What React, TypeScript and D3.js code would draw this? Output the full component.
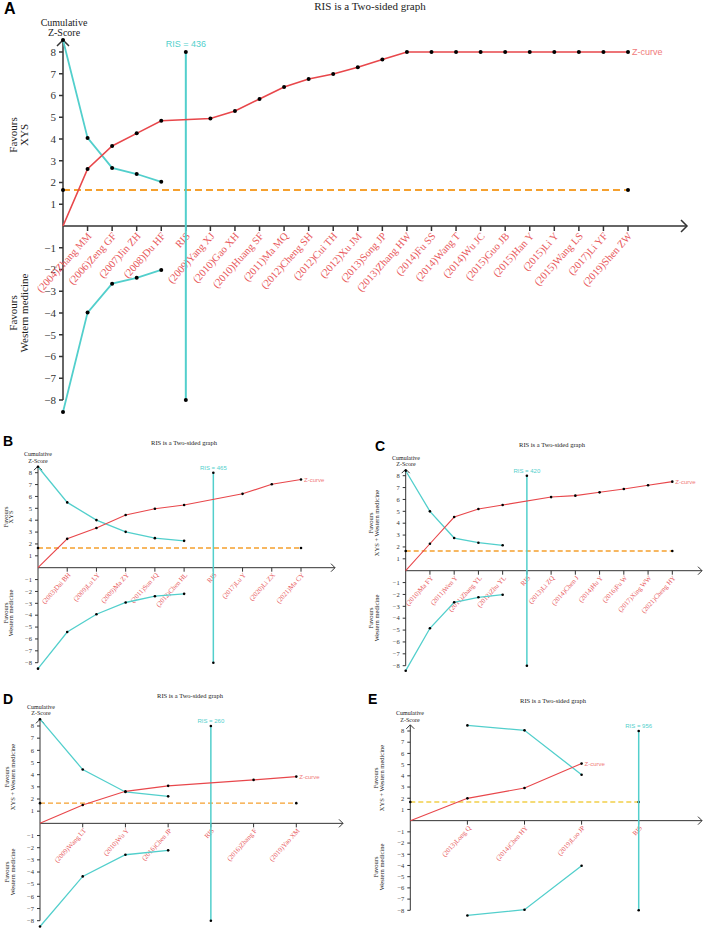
import React from "react";
import * as d3 from "d3";

// ---------- DATA ----------
const thresholdZ = 1.66;
const yTickValues = [-8, -7, -6, -5, -4, -3, -2, -1, 1, 2, 3, 4, 5, 6, 7, 8];

const studiesA = ["(2004)Zhang MM", "(2006)Zeng GF", "(2007)Jin ZH", "(2008)Du HF", "RIS", "(2009)Yang XJ", "(2010)Gao XH", "(2010)Huang SF", "(2011)Ma MQ", "(2012)Cheng SH", "(2012)Cui TH", "(2012)Xu JM", "(2013)Song JP", "(2013)Zhang HW", "(2014)Fu SS", "(2014)Wang T", "(2014)Wu JC", "(2015)Guo JB", "(2015)Han Y", "(2015)Li Y", "(2015)Wang LS", "(2017)Li YF", "(2019)Shen ZW"];
const zCurveA = [2.62, 3.68, 4.26, 4.84, null, 4.94, 5.29, 5.84, 6.39, 6.76, 6.99, 7.3, 7.66, 8, 8, 8, 8, 8, 8, 8, 8, 8, 8];
const upperA = [8.55, 4.05, 2.67, 2.39, 2.03];
const lowerA = [-8.55, -3.98, -2.65, -2.38, -2.02];
const risA = 436;

const studiesB = ["(2003)Dai BH", "(2009)Lu LY", "(2009)Ma ZY", "(2011)Sun JQ", "(2012)Chen HL", "RIS", "(2017)Lu Y", "(2020)Li ZX", "(2021)Ma CY"];
const zCurveB = [2.43, 3.34, 4.44, 4.97, 5.28, null, 6.22, 7.03, 7.43];
const upperB = [8.5, 5.5, 4.01, 3.02, 2.49, 2.26];
const lowerB = [-8.5, -5.42, -3.92, -2.93, -2.4, -2.2];
const risB = 465;

const studiesC = ["(2010)Ma FY", "(2011)Wen Y", "(2011)Zhang YL", "(2012)Zhu YL", "RIS", "(2013)Li ZQ", "(2014)Chen J", "(2014)Hu Y", "(2016)Fu W", "(2017)Xing WW", "(2021)Cheng HY"];
const zCurveC = [2.27, 4.52, 5.2, 5.53, null, 6.2, 6.32, 6.6, 6.88, 7.19, 7.5];
const upperC = [8.42, 5.0, 2.75, 2.36, 2.14];
const lowerC = [-8.42, -4.85, -2.66, -2.24, -2.02];
const risC = 420;

const studiesD = ["(2009)Wang LT", "(2010)Wu Y", "(2016)Chen JP", "RIS", "(2016)Zhang F", "(2019)Yao XM"];
const zCurveD = [1.51, 2.63, 3.08, null, 3.57, 3.84];
const upperD = [8.56, 4.42, 2.58, 2.22];
const lowerD = [-8.48, -4.36, -2.58, -2.22];
const risD = 260;

const studiesE = ["(2013)Long Q", "(2014)Chen HY", "(2019)Luo JP", "RIS"];
const zCurveE = [1.99, 2.91, 5.09, null];
const upperE = [null, 8.5, 8.06, 4.1];
const lowerE = [null, -8.46, -7.95, -4.02];
const risE = 956;

// ---------- LAYOUT ----------
const RED = "#e8474b";
const LABEL_RED = "#e8585b";
const ZLABEL = "#f07a7a";
const CYAN = "#52cfcc";
const ORANGE = "#f5a02e";
const YELLOW = "#f2cf4a";
const AXIS = "#333";
const SERIF = "'Liberation Serif', 'DejaVu Serif', serif";
const SANS = "'Liberation Sans', Arial, sans-serif";

type Layout = {
  letter: [number, number, string];
  title: [number, number];
  x0: number; xEnd: number; xArrow: number;
  yP8: number; yM8: number;
  cum: [number, number, number];
  favTop: [number, number, number, string];
  favBot: [number, number, number];
  big: boolean;
  dash: string;
};

const layoutA: Layout = { letter: [4, 14, "A"], title: [370, 10], x0: 63, xEnd: 628, xArrow: 687, yP8: 52, yM8: 400, cum: [64, 26, 36], favTop: [13, 24, 135, "XYS"], favBot: [13, 24, 313], big: true, dash: ORANGE };
const layoutB: Layout = { letter: [3, 446, "B"], title: [184, 445], x0: 38, xEnd: 301, xArrow: 335, yP8: 472.7, yM8: 662.7, cum: [38, 456, 463], favTop: [6, 11, 517, "XYS"], favBot: [6, 11, 613], big: false, dash: ORANGE };
const layoutC: Layout = { letter: [375, 451, "C"], title: [552, 447], x0: 405.7, xEnd: 672.3, xArrow: 702, yP8: 475.7, yM8: 665.7, cum: [406, 460, 466], favTop: [371, 377, 523, "XYS  +  Western medicine"], favBot: [371, 377, 618], big: false, dash: ORANGE };
const layoutD: Layout = { letter: [3, 704, "D"], title: [190, 698], x0: 40, xEnd: 296.3, xArrow: 343, yP8: 726, yM8: 920.7, cum: [41, 709, 715], favTop: [7, 13, 777, "XYS  +  Western medicine"], favBot: [7, 13, 872], big: false, dash: ORANGE };
const layoutE: Layout = { letter: [368, 704, "E"], title: [553, 703], x0: 410.3, xEnd: 638.7, xArrow: 702, yP8: 731, yM8: 910.3, cum: [410, 715, 722], favTop: [376, 382, 778, "XYS  +  Western medicine"], favBot: [376, 382, 867], big: false, dash: YELLOW };

type PanelProps = {
  layout: Layout;
  studies: string[];
  zCurve: (number | null)[];
  upper: (number | null)[];
  lower: (number | null)[];
  ris: number;
};

function Panel({ layout, studies, zCurve, upper, lower, ris }: PanelProps) {
  const L = layout;
  const n = studies.length;
  const x = d3.scaleLinear().domain([0, n]).range([L.x0, L.xEnd]);
  const y = d3.scaleLinear().domain([-8, 8]).range([L.yM8, L.yP8]);
  const y0 = y(0);
  const big = L.big;
  const f = big
    ? { tick: 11, xl: 10.5, title: 11, cum: 10, fav: 11, ris: 9, z: 9, r: 2, lw: 1.6, tl: 4, letter: 16 }
    : { tick: 6.5, xl: 6.8, title: 6.5, cum: 6, fav: 6.5, ris: 6, z: 6, r: 1.3, lw: 1.1, tl: 3, letter: 14 };
  const risPos = studies.indexOf("RIS") + 1;

  const line = d3
    .line<[number, number]>()
    .x((d) => x(d[0]))
    .y((d) => y(d[1]));

  const zPts: [number, number][] = [[0, 0]];
  zCurve.forEach((v, i) => {
    if (v !== null) zPts.push([i + 1, v]);
  });
  const upPts: [number, number][] = [];
  upper.forEach((v, i) => {
    if (v !== null) upPts.push([i, v]);
  });
  const loPts: [number, number][] = [];
  lower.forEach((v, i) => {
    if (v !== null) loPts.push([i, v]);
  });
  const lastZ = zPts[zPts.length - 1];
  const yTop = y(8.55);
  const ah = big ? 6 : 4;

  return (
    <g>
      <text x={L.letter[0]} y={L.letter[1]} fontFamily={SANS} fontWeight="bold" fontSize={f.letter} fill="#000">
        {L.letter[2]}
      </text>
      <text x={L.title[0]} y={L.title[1]} textAnchor="middle" fontFamily={SERIF} fontSize={f.title} fill="#222">
        RIS is a Two-sided graph
      </text>
      <text x={L.cum[0]} y={L.cum[1]} textAnchor="middle" fontFamily={SERIF} fontSize={f.cum} fill="#222">
        Cumulative
      </text>
      <text x={L.cum[0]} y={L.cum[2]} textAnchor="middle" fontFamily={SERIF} fontSize={f.cum} fill="#222">
        Z-Score
      </text>
      {/* side labels */}
      <g fontFamily={SERIF} fontSize={f.fav} fill="#222" textAnchor="middle">
        <text transform={`translate(${L.favTop[0]},${L.favTop[2]}) rotate(-90)`} dy="0.35em">Favours</text>
        <text transform={`translate(${L.favTop[1]},${L.favTop[2]}) rotate(-90)`} dy="0.35em">{L.favTop[3]}</text>
        <text transform={`translate(${L.favBot[0]},${L.favBot[2]}) rotate(-90)`} dy="0.35em">Favours</text>
        <text transform={`translate(${L.favBot[1]},${L.favBot[2]}) rotate(-90)`} dy="0.35em">Western medicine</text>
      </g>
      {/* axes */}
      <g stroke={AXIS} strokeWidth={big ? 1.5 : 1} fill="none">
        <line x1={L.x0} x2={L.x0} y1={y(-8)} y2={yTop} />
        <polyline points={`${L.x0 - ah},${yTop + ah} ${L.x0},${yTop} ${L.x0 + ah},${yTop + ah}`} />
        <line x1={L.x0} x2={L.xArrow} y1={y0} y2={y0} />
        <polyline points={`${L.xArrow - ah},${y0 - ah} ${L.xArrow},${y0} ${L.xArrow - ah},${y0 + ah}`} />
        {yTickValues.map((t) => (
          <line key={t} x1={L.x0 - f.tl} x2={L.x0} y1={y(t)} y2={y(t)} />
        ))}
        {studies.map((_, i) => (
          <line key={i} x1={x(i + 1)} x2={x(i + 1)} y1={y0} y2={y0 + f.tl + 1} />
        ))}
      </g>
      <g fontFamily={SERIF} fontSize={f.tick} fill="#333" textAnchor="end">
        {yTickValues.map((t) => (
          <text key={t} x={L.x0 - f.tl - 3} y={y(t)} dy="0.35em">
            {t < 0 ? `\u2212${-t}` : `${t}`}
          </text>
        ))}
      </g>
      {/* study labels */}
      <g fontFamily={SERIF} fontSize={f.xl} fill={LABEL_RED} textAnchor="end">
        {studies.map((s, i) => (
          <text key={i} transform={`translate(${x(i + 1) + 2},${y0 + (big ? 8 : 6)}) rotate(-48)`} dy="0.35em">
            {s}
          </text>
        ))}
      </g>
      {/* threshold */}
      <line x1={x(0)} x2={x(n)} y1={y(thresholdZ)} y2={y(thresholdZ)} stroke={L.dash} strokeWidth={big ? 2 : 1.4} strokeDasharray={big ? "7,4" : "5,3"} />
      <circle cx={x(0)} cy={y(thresholdZ)} r={f.r} fill="#000" />
      <circle cx={x(n)} cy={y(thresholdZ)} r={f.r} fill="#000" />
      {/* boundaries */}
      <path d={line(upPts) || ""} stroke={CYAN} strokeWidth={f.lw + 0.2} fill="none" />
      <path d={line(loPts) || ""} stroke={CYAN} strokeWidth={f.lw + 0.2} fill="none" />
      {/* RIS */}
      <line x1={x(risPos)} x2={x(risPos)} y1={y(8)} y2={y(-8)} stroke={CYAN} strokeWidth={f.lw + 0.4} />
      <text x={x(risPos)} y={y(8) - (big ? 5 : 3)} textAnchor="middle" fontFamily={SANS} fontSize={f.ris} fill={CYAN}>
        {`RIS = ${ris}`}
      </text>
      <circle cx={x(risPos)} cy={y(8)} r={f.r} fill="#000" />
      <circle cx={x(risPos)} cy={y(-8)} r={f.r} fill="#000" />
      {/* Z-curve */}
      <path d={line(zPts) || ""} stroke={RED} strokeWidth={f.lw} fill="none" />
      <text x={x(lastZ[0]) + (big ? 4 : 3)} y={y(lastZ[1])} dy="0.35em" fontFamily={SANS} fontSize={f.z} fill={ZLABEL}>
        Z-curve
      </text>
      {[...upPts, ...loPts, ...zPts.slice(1)].map((p, i) => (
        <circle key={i} cx={x(p[0])} cy={y(p[1])} r={f.r} fill="#000" />
      ))}
    </g>
  );
}

export default function App() {
  return (
    <svg width={706} height={930} style={{ position: "absolute", left: 0, top: 0, background: "#fff" }}>
      <rect width={706} height={930} fill="#fff" />
      <Panel layout={layoutA} studies={studiesA} zCurve={zCurveA} upper={upperA} lower={lowerA} ris={risA} />
      <Panel layout={layoutB} studies={studiesB} zCurve={zCurveB} upper={upperB} lower={lowerB} ris={risB} />
      <Panel layout={layoutC} studies={studiesC} zCurve={zCurveC} upper={upperC} lower={lowerC} ris={risC} />
      <Panel layout={layoutD} studies={studiesD} zCurve={zCurveD} upper={upperD} lower={lowerD} ris={risD} />
      <Panel layout={layoutE} studies={studiesE} zCurve={zCurveE} upper={upperE} lower={lowerE} ris={risE} />
    </svg>
  );
}
